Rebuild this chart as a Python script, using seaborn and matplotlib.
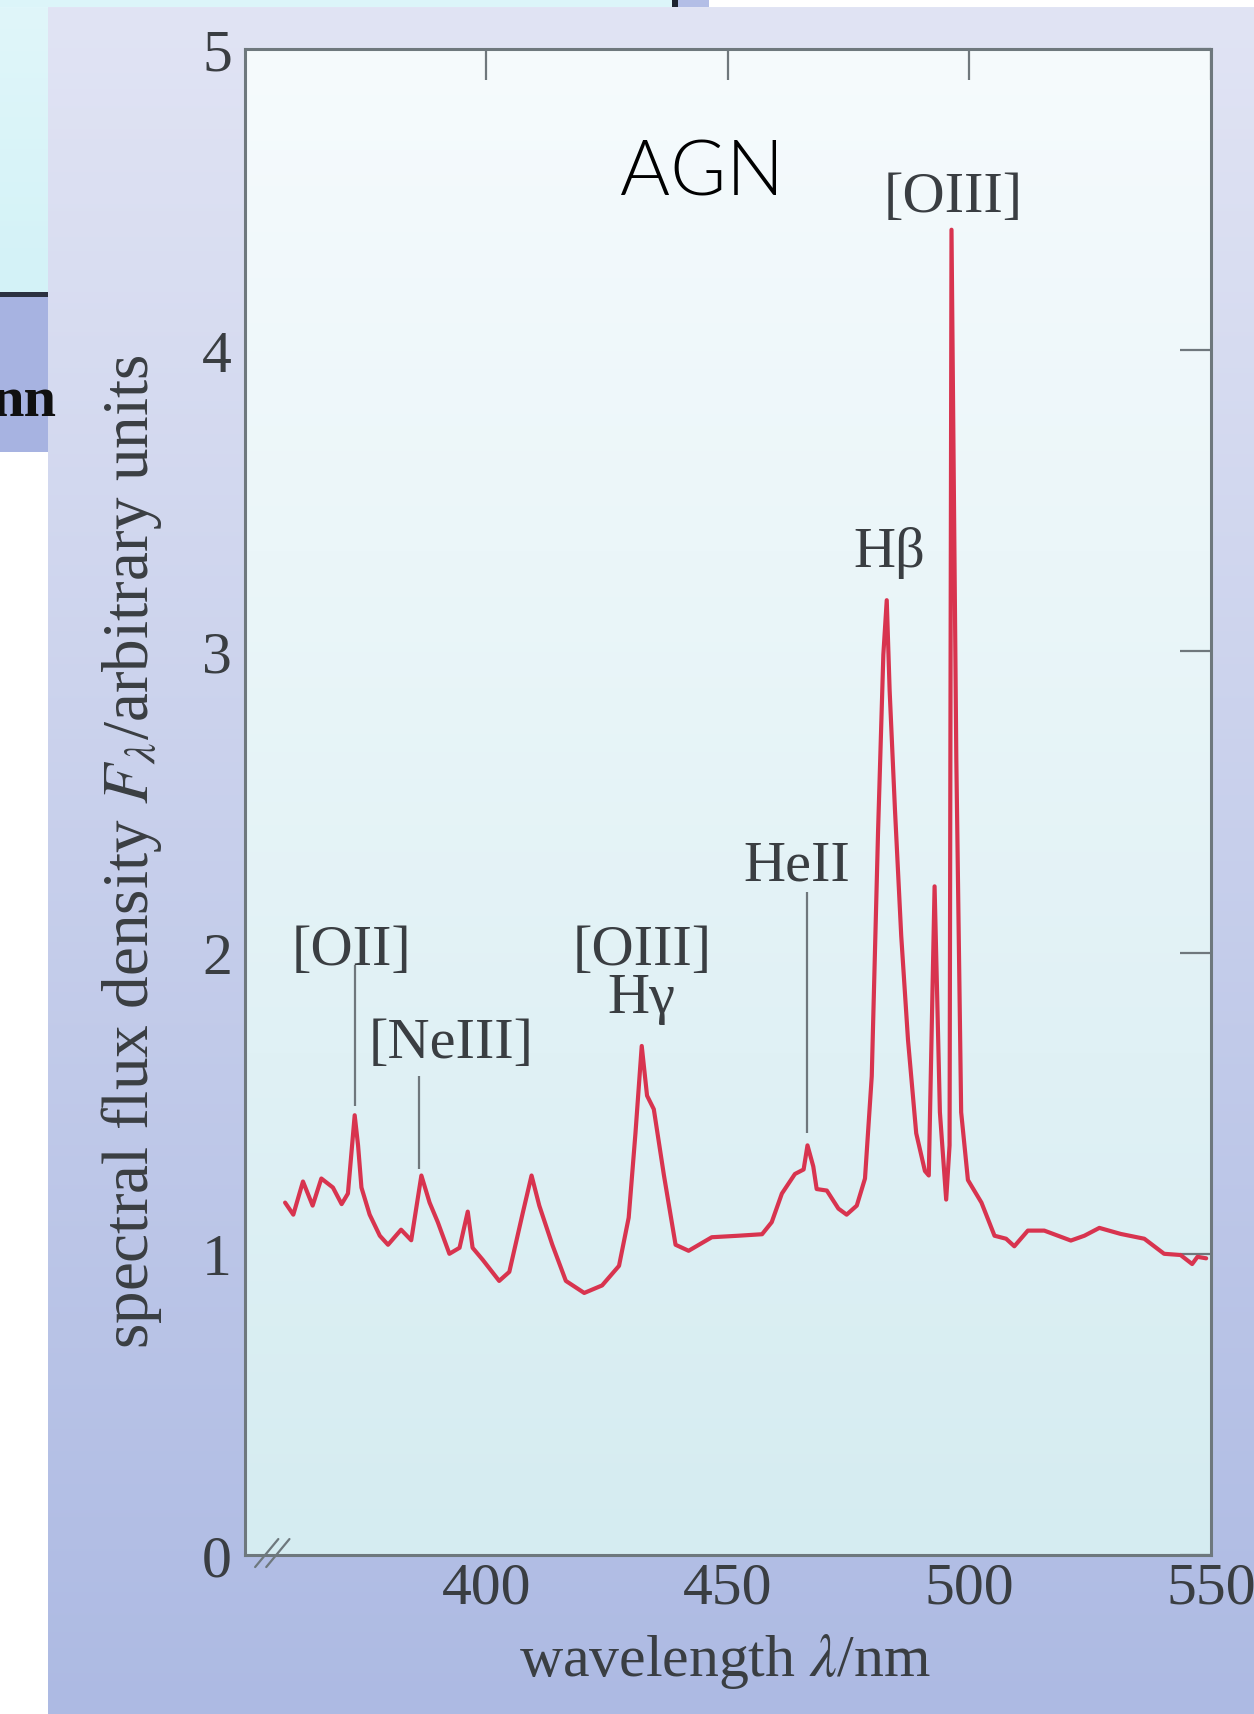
import numpy as np
import matplotlib
matplotlib.use("Agg")
import matplotlib.pyplot as plt
import seaborn as sns
from matplotlib.patches import Rectangle
from matplotlib.colors import to_rgb

# spectrum (nm, arbitrary units)
wavelength = [358.4, 360.1, 362.1, 364.1, 365.9, 368.3, 370.1, 371.4, 372.8, 373.5,
              374.2, 375.9, 378.0, 379.7, 382.4, 384.5, 386.6, 388.3, 390.0, 392.4,
              394.5, 396.2, 397.2, 399.3, 402.7, 404.8, 407.5, 409.4, 411.0, 413.7,
              416.5, 420.3, 424.0, 427.5, 429.5, 430.9, 432.2, 433.3, 434.7, 436.8,
              439.2, 441.9, 446.7, 452.2, 457.1, 459.1, 461.2, 463.9, 465.7, 466.5,
              467.7, 468.4, 470.5, 472.9, 474.6, 476.7, 478.4, 479.8, 481.1, 482.2,
              482.9, 483.5, 484.6, 485.9, 487.3, 489.0, 490.8, 491.6, 492.8, 493.9,
              495.2, 495.9, 496.3, 497.3, 498.3, 499.7, 502.5, 505.2, 507.6, 509.3,
              512.1, 515.5, 521.0, 523.8, 526.9, 531.3, 536.2, 540.3, 543.7, 546.1,
              547.2, 549.0]
flux = [1.17, 1.13, 1.24, 1.16, 1.25, 1.22, 1.165, 1.20, 1.46, 1.36,
        1.22, 1.13, 1.06, 1.03, 1.08, 1.045, 1.26, 1.17, 1.105, 1.00,
        1.02, 1.14, 1.02, 0.98, 0.91, 0.94, 1.13, 1.26, 1.16, 1.03,
        0.91, 0.87, 0.895, 0.96, 1.12, 1.40, 1.69, 1.525, 1.48, 1.26,
        1.03, 1.01, 1.055, 1.06, 1.065, 1.105, 1.20, 1.265, 1.28, 1.36,
        1.29, 1.215, 1.21, 1.15, 1.13, 1.16, 1.25, 1.59, 2.40, 2.99,
        3.17, 2.87, 2.475, 2.055, 1.71, 1.40, 1.275, 1.26, 2.22, 1.47,
        1.18, 1.36, 4.40, 2.64, 1.47, 1.245, 1.17, 1.06, 1.05, 1.025,
        1.077, 1.077, 1.044, 1.06, 1.086, 1.066, 1.05, 1.00, 0.996, 0.966,
        0.99, 0.985]

line_names = ["[OII]", "[NeIII]", "[OIII]", "Hγ", "HeII", "Hβ", "[OIII]"]
name_x = [372.2, 392.8, 432.2, 432.2, 464.2, 483.4, 496.7]
name_y = [2.01, 1.70, 2.01, 1.85, 2.29, 3.33, 4.51]

pointer_x = [372.8, 386.2, 466.5]
pointer_lo = [1.49, 1.28, 1.40]
pointer_hi = [1.96, 1.59, 2.20]

x_ticks = [400, 450, 500, 550]
y_ticks = [0, 1, 2, 3, 4, 5]

sns.set_theme(style="white")
plt.rcParams["font.family"] = ["Liberation Serif", "DejaVu Serif"]
plt.rcParams["mathtext.fontset"] = "stix"

W, H = 1254, 1715
L, R, T, B = 244.5, 1211, 50, 1556
fig = plt.figure(figsize=(W / 100, H / 100), dpi=100)


def vgrad(c0, c1, n):
    t = np.linspace(0, 1, n)[:, None]
    return np.array(to_rgb(c0)) * (1 - t) + np.array(to_rgb(c1)) * t


# screenshot background: slide panel, leftovers of the slide behind it
img = np.ones((H, W, 3))
img[8:] = vgrad("#e1e4f4", "#adbae3", H - 8)[:, None, :]
img[int(T):int(B), int(L) + 1:int(R)] = vgrad("#f6fbfd", "#d5ecf1", int(B) - int(T))[:, None, :]
img[:8, :672] = to_rgb("#dcf5f9")
img[:8, 672:678] = to_rgb("#1e2430")
img[:8, 678:709] = to_rgb("#b3bee6")
img[8:293, :48] = vgrad("#e0f6fa", "#d3f2f7", 285)[:, None, :]
img[293:298, :48] = to_rgb("#2b3140")
img[298:453, :48] = to_rgb("#a7b3e1")
img[453:, :48] = 1.0

bg = fig.add_axes([0, 0, 1, 1], zorder=-10)
bg.imshow(img, extent=[0, W, H, 0], aspect="auto", interpolation="nearest")
bg.set_xlim(0, W)
bg.set_ylim(H, 0)
bg.axis("off")
nn = bg.text(56, 402, "nn", fontsize=42, fontweight="bold", ha="right", va="center", color="#101010")
nn.set_clip_path(Rectangle((0, 298), 48, 155, transform=bg.transData))

ax = fig.add_axes([L / W, 1 - B / H, (R - L) / W, (B - T) / H])
ax.set_facecolor("none")

sns.lineplot(x=wavelength, y=flux, ax=ax, color="#d8344f", linewidth=3.0,
             sort=False, estimator=None, solid_joinstyle="round")

ax.vlines(pointer_x, pointer_lo, pointer_hi, color="#6f777c", linewidth=1.6)
for name, x, y in zip(line_names, name_x, name_y):
    ax.text(x, y, name, fontsize=42, ha="center", va="center", color="#3a3e42")

ax.text(444.6, 4.585, "AGN", fontsize=55, ha="center", va="center", color="black",
        family=["Lato", "DejaVu Sans"], fontweight=300)

ax.set_xlim(350, 550)
ax.set_ylim(0, 5)
ax.set_xticks(x_ticks)
ax.set_yticks(y_ticks)
ax.tick_params(direction="in", length=22, width=1.6, color="#6f777c",
               labelcolor="#3a3e42", labelsize=43, top=True, right=True)
ax.tick_params(axis="x", pad=4.5)
ax.tick_params(axis="y", pad=9)
for sp in ax.spines.values():
    sp.set_color("#6e787d")
    sp.set_linewidth(2.2)

ax.set_xlabel(r"wavelength $\lambda$/nm", fontsize=43, color="#3a3e42")
ax.xaxis.set_label_coords(0.497, -0.070)
ax.xaxis.label.set_va("center")
ax.set_ylabel(r"spectral flux density $F_\lambda$/arbitrary units", fontsize=47, color="#3a3e42")
ax.yaxis.label.set_va("baseline")
ax.yaxis.set_label_coords(-0.0998, 0.468)

# axis break marks near the origin
for dx in (0.0, 0.0115):
    ax.plot([0.011 + dx, 0.035 + dx], [-0.008, 0.0106], transform=ax.transAxes,
            color="#6e787d", linewidth=1.6, clip_on=False)

fig.savefig("out.png", dpi=100)
